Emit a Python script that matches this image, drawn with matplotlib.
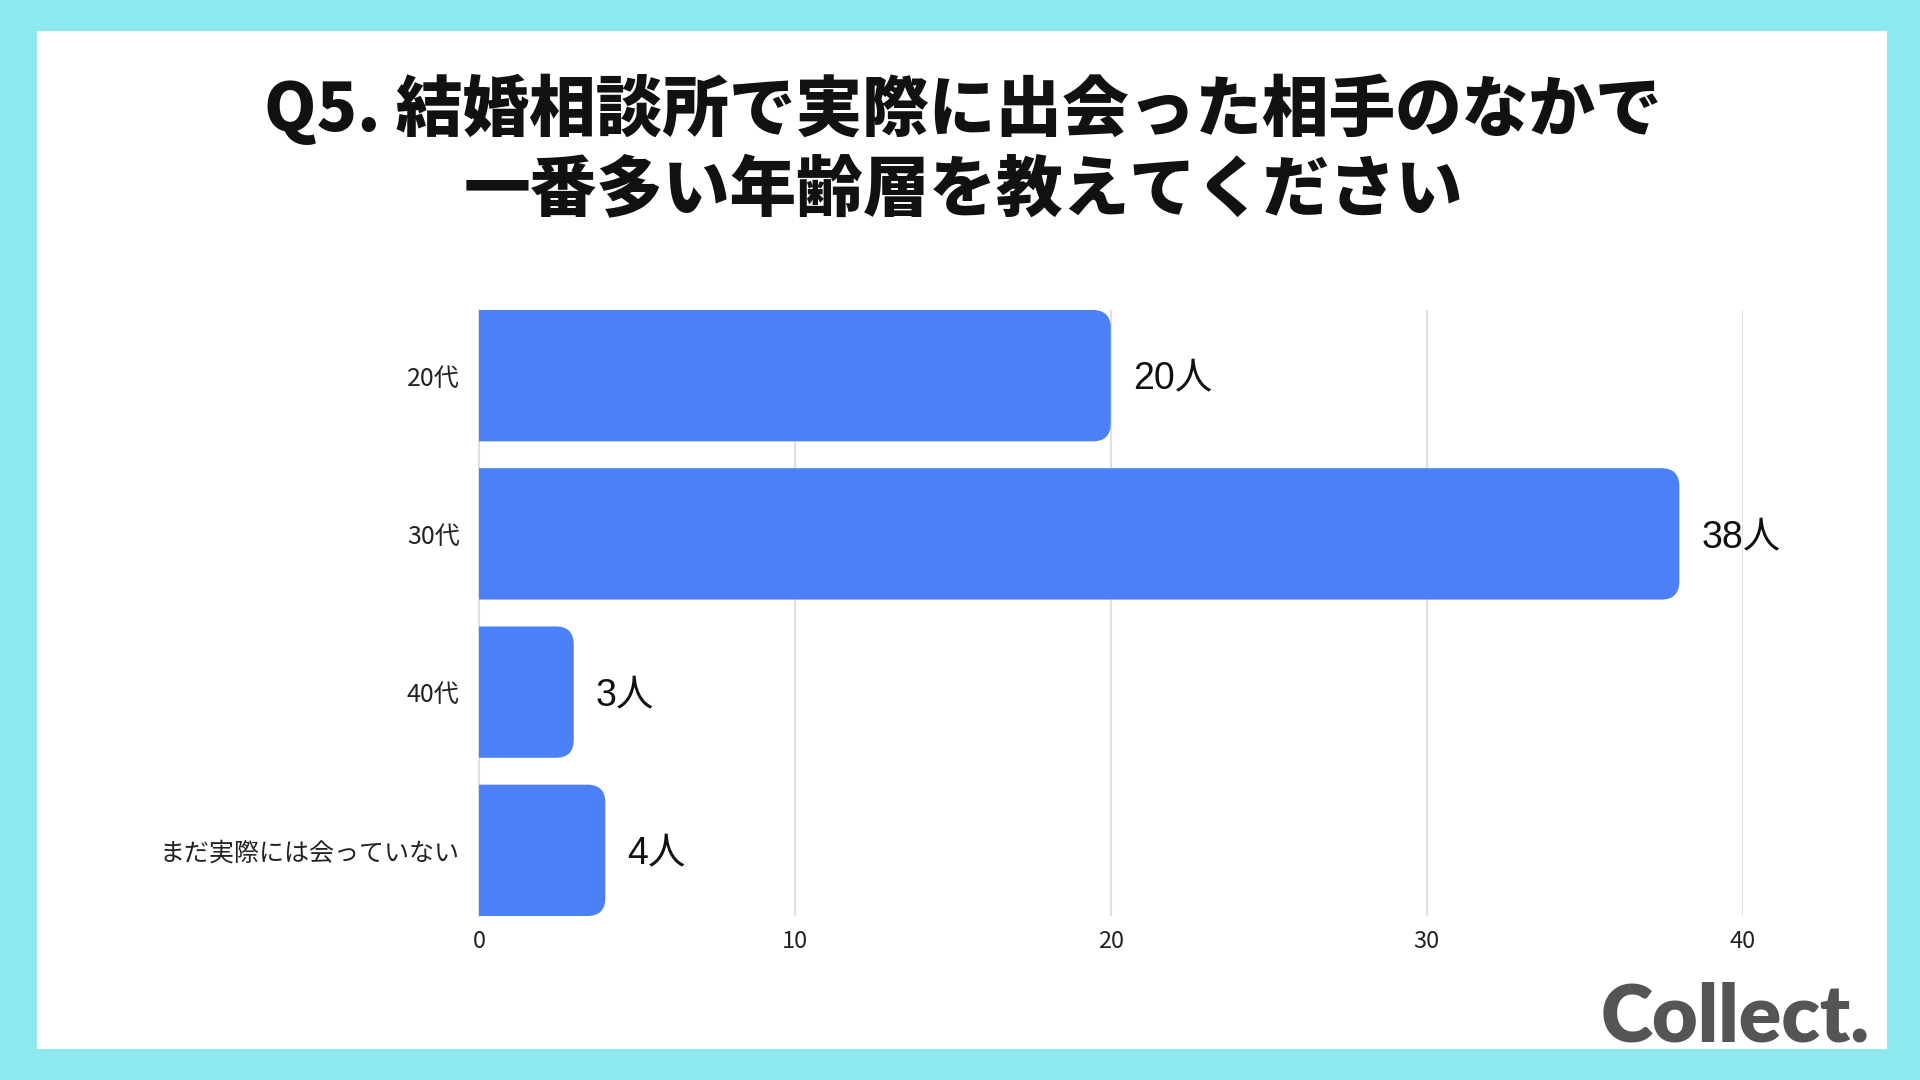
import matplotlib.pyplot as plt
from matplotlib.patches import FancyBboxPatch, Rectangle

plt.rcParams['font.family'] = ['Noto Sans CJK JP', 'DejaVu Sans']

# data
categories = ['20代', '30代', '40代', 'まだ実際には会っていない']
counts = [20, 38, 3, 4]
value_labels = ['20人', '38人', '3人', '4人']
x_ticks = [0, 10, 20, 30, 40]

title_line1 = 'Q5. 結婚相談所で実際に出会った相手のなかで'
title_line2 = '一番多い年齢層を教えてください'

bar_color = '#4B80F6'
border_color = '#8CE9ED'

W, H = 1920, 1080
fig = plt.figure(figsize=(19.2, 10.8), dpi=100)
fig.patch.set_facecolor(border_color)

# white card
fig.patches.append(Rectangle((37 / W, 1 - 1049 / H), 1850 / W, 1018 / H,
                             transform=fig.transFigure, facecolor='white',
                             edgecolor='none', zorder=-1))

fig.text(963 / W, 1 - 109 / H, title_line1, ha='center', va='center',
         fontsize=48, fontweight='heavy', color='#111111')
fig.text(963 / W, 1 - 191 / H, title_line2, ha='center', va='center',
         fontsize=48, fontweight='heavy', color='#111111')

ax_left, ax_right = 479 / W, 1742.5 / W
ax_top, ax_bottom = 1 - 310 / H, 1 - 916 / H
ax = fig.add_axes([ax_left, ax_bottom, ax_right - ax_left, ax_top - ax_bottom])
ax.set_facecolor('none')
ax.set_zorder(2)

bar_h = 0.83
y = list(range(len(categories)))
bars = ax.barh(y, counts, height=bar_h, color=bar_color)
ax.set_xlim(0, 40)
ax.set_ylim(len(categories) - 1 + bar_h / 2, -bar_h / 2)

# swap the plain bars for ones with rounded right corners
fig.canvas.draw()
px_per_x = ax.transData.transform((1, 0))[0] - ax.transData.transform((0, 0))[0]
px_per_y = abs(ax.transData.transform((0, 1))[1] - ax.transData.transform((0, 0))[1])
aspect = px_per_x / px_per_y
radius = 18 / px_per_x
for b in bars:
    x0, y0, w, h = b.get_x(), b.get_y(), b.get_width(), b.get_height()
    b.remove()
    p = FancyBboxPatch((x0 - 2, y0), w + 2, h,
                       boxstyle=f'round,pad=0,rounding_size={radius}',
                       mutation_aspect=aspect, facecolor=bar_color,
                       edgecolor='none', zorder=3)
    ax.add_patch(p)

for yi, v, lab in zip(y, counts, value_labels):
    ax.annotate(lab, (v, yi), xytext=(16, -3), textcoords='offset points',
                ha='left', va='center', fontsize=27, color='#111111',
                family=['Liberation Sans', 'Noto Sans CJK JP'])

ax.set_yticks(y)
ax.set_yticklabels(categories, fontsize=18, color='#222222')
ax.set_xticks(x_ticks)
ax.set_xticklabels([str(t) for t in x_ticks], fontsize=17, color='#222222')
ax.tick_params(axis='both', length=0)
ax.tick_params(axis='y', pad=14)
ax.tick_params(axis='x', pad=10)

ax.grid(axis='x', color='#E0E0E0', linewidth=1.5, zorder=0)
ax.set_axisbelow(True)
for s in ['top', 'right', 'bottom']:
    ax.spines[s].set_visible(False)
ax.spines['left'].set_color('#E0E0E0')
ax.spines['left'].set_linewidth(1.5)

fig.text(1870 / W, 1 - 1041 / H, 'Collect.', ha='right', va='baseline',
         fontsize=57, fontweight='heavy', color='#555555', family=['Lato', 'DejaVu Sans'])

fig.savefig('out.png', dpi=100, facecolor=fig.get_facecolor())
